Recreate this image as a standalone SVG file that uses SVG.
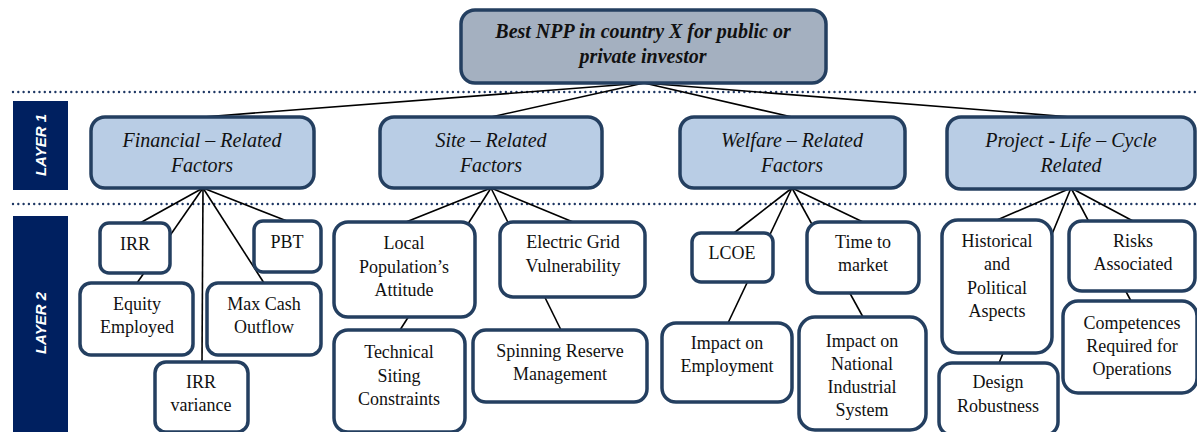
<svg xmlns="http://www.w3.org/2000/svg" width="1197" height="432" viewBox="0 0 1197 432">
<defs>
<style>
.bx{fill:#ffffff;stroke:#243f60;stroke-width:3.5}
.l1{fill:#b9cde5;stroke:#243f60;stroke-width:3.5}
.top{fill:#a4b0c0;stroke:#243f60;stroke-width:3.5}
.lay{fill:#002060}
.dot{stroke:#1f3864;stroke-width:2.4;stroke-dasharray:0 5.3;stroke-linecap:round;fill:none}
.cn line{stroke:#000;stroke-width:1.6}
.t2{font-family:"Liberation Serif","Times New Roman",serif;font-size:18px;fill:#111;text-anchor:middle}
.t1{font-family:"Liberation Serif","Times New Roman",serif;font-size:20px;font-style:italic;fill:#111;text-anchor:middle}
.t0{font-family:"Liberation Serif","Times New Roman",serif;font-size:20px;font-style:italic;font-weight:bold;fill:#111;text-anchor:middle}
.tl{font-family:"Liberation Sans",Arial,sans-serif;font-size:15px;font-style:italic;font-weight:bold;fill:#fff;text-anchor:middle}
</style>
</defs>
<rect width="1197" height="432" fill="#ffffff"/>
<line class="dot" x1="13" y1="92" x2="1197" y2="92"/>
<line class="dot" x1="13" y1="204" x2="1197" y2="204"/>
<g id="layer1-label"><rect class="lay" x="13" y="101" width="55" height="89"/><text class="tl" transform="translate(46,145) rotate(-90)">LAYER 1</text></g>
<g id="layer2-label"><rect class="lay" x="13" y="216" width="55" height="216"/><text class="tl" transform="translate(46,323) rotate(-90)">LAYER 2</text></g>
<g id="connectors" class="cn">
<line x1="644" y1="83" x2="203" y2="117"/>
<line x1="644" y1="83" x2="491" y2="117"/>
<line x1="644" y1="83" x2="792" y2="117"/>
<line x1="644" y1="83" x2="1071" y2="117"/>
<line x1="203" y1="188" x2="140" y2="223"/>
<line x1="203" y1="188" x2="137" y2="283"/>
<line x1="203" y1="188" x2="202" y2="362"/>
<line x1="203" y1="188" x2="264" y2="283"/>
<line x1="203" y1="188" x2="287" y2="221"/>
<line x1="491" y1="188" x2="406" y2="222"/>
<line x1="491" y1="188" x2="400" y2="330"/>
<line x1="491" y1="188" x2="561" y2="330"/>
<line x1="491" y1="188" x2="573" y2="222"/>
<line x1="792" y1="188" x2="734" y2="233"/>
<line x1="792" y1="188" x2="728" y2="323"/>
<line x1="792" y1="188" x2="863" y2="317"/>
<line x1="792" y1="188" x2="863" y2="222"/>
<line x1="1071" y1="188" x2="997" y2="220"/>
<line x1="1071" y1="188" x2="999" y2="363"/>
<line x1="1071" y1="188" x2="1131" y2="301"/>
<line x1="1071" y1="188" x2="1133" y2="221"/>
</g>
<g id="goal"><rect class="top" x="461" y="10" width="365" height="73" rx="14"/><text class="t0" x="643" y="38">Best NPP in country X for public or</text><text class="t0" x="643" y="63">private investor</text></g>
<g id="financial"><rect class="l1" x="91" y="117" width="223" height="71" rx="14"/><text class="t1" x="202" y="147">Financial – Related</text><text class="t1" x="202" y="172">Factors</text></g>
<g id="site"><rect class="l1" x="380" y="117" width="222" height="71" rx="14"/><text class="t1" x="491" y="147">Site – Related</text><text class="t1" x="491" y="172">Factors</text></g>
<g id="welfare"><rect class="l1" x="680" y="117" width="225" height="71" rx="14"/><text class="t1" x="792" y="147">Welfare – Related</text><text class="t1" x="792" y="172">Factors</text></g>
<g id="project"><rect class="l1" x="947" y="117" width="248" height="72" rx="14"/><text class="t1" x="1071" y="147">Project - Life – Cycle</text><text class="t1" x="1071" y="172">Related</text></g>
<g id="irr"><rect class="bx" x="100" y="223" width="70" height="50" rx="9"/><text class="t2" x="135" y="250">IRR</text></g>
<g id="pbt"><rect class="bx" x="254" y="221" width="67" height="51" rx="9"/><text class="t2" x="287" y="248">PBT</text></g>
<g id="equity"><rect class="bx" x="80" y="283" width="113" height="72" rx="11"/><text class="t2" x="137" y="310">Equity</text><text class="t2" x="137" y="333">Employed</text></g>
<g id="maxcash"><rect class="bx" x="207" y="283" width="114" height="72" rx="11"/><text class="t2" x="264" y="310">Max Cash</text><text class="t2" x="264" y="333">Outflow</text></g>
<g id="irrvar"><rect class="bx" x="155" y="362" width="93" height="70" rx="11"/><text class="t2" x="201" y="388">IRR</text><text class="t2" x="201" y="411">variance</text></g>
<g id="localpop"><rect class="bx" x="334" y="222" width="141" height="95" rx="14"/><text class="t2" x="404" y="249">Local</text><text class="t2" x="404" y="273">Population’s</text><text class="t2" x="404" y="296">Attitude</text></g>
<g id="technical"><rect class="bx" x="334" y="330" width="131" height="102" rx="14"/><text class="t2" x="399" y="358">Technical</text><text class="t2" x="399" y="382">Siting</text><text class="t2" x="399" y="405">Constraints</text></g>
<g id="electric"><rect class="bx" x="500" y="222" width="145" height="75" rx="13"/><text class="t2" x="573" y="248">Electric Grid</text><text class="t2" x="573" y="272">Vulnerability</text></g>
<g id="spinning"><rect class="bx" x="473" y="330" width="174" height="72" rx="13"/><text class="t2" x="560" y="357">Spinning Reserve</text><text class="t2" x="560" y="380">Management</text></g>
<g id="lcoe"><rect class="bx" x="692" y="233" width="81" height="49" rx="9"/><text class="t2" x="732" y="259">LCOE</text></g>
<g id="timetomarket"><rect class="bx" x="807" y="222" width="112" height="71" rx="13"/><text class="t2" x="863" y="248">Time to</text><text class="t2" x="863" y="271">market</text></g>
<g id="employment"><rect class="bx" x="662" y="323" width="130" height="79" rx="14"/><text class="t2" x="727" y="349">Impact on</text><text class="t2" x="727" y="372">Employment</text></g>
<g id="national"><rect class="bx" x="799" y="317" width="127" height="113" rx="16"/><text class="t2" x="862" y="347">Impact on</text><text class="t2" x="862" y="370">National</text><text class="t2" x="862" y="393">Industrial</text><text class="t2" x="862" y="416">System</text></g>
<g id="historical"><rect class="bx" x="942" y="220" width="110" height="133" rx="16"/><text class="t2" x="997" y="247">Historical</text><text class="t2" x="997" y="270">and</text><text class="t2" x="997" y="294">Political</text><text class="t2" x="997" y="317">Aspects</text></g>
<g id="risks"><rect class="bx" x="1069" y="221" width="126" height="70" rx="13"/><text class="t2" x="1133" y="247">Risks</text><text class="t2" x="1133" y="270">Associated</text></g>
<g id="competences"><rect class="bx" x="1063" y="301" width="134" height="92" rx="15"/><text class="t2" x="1132" y="329">Competences</text><text class="t2" x="1132" y="352">Required for</text><text class="t2" x="1132" y="375">Operations</text></g>
<g id="design"><rect class="bx" x="939" y="363" width="119" height="72" rx="13"/><text class="t2" x="998" y="388">Design</text><text class="t2" x="998" y="412">Robustness</text></g>
</svg>
